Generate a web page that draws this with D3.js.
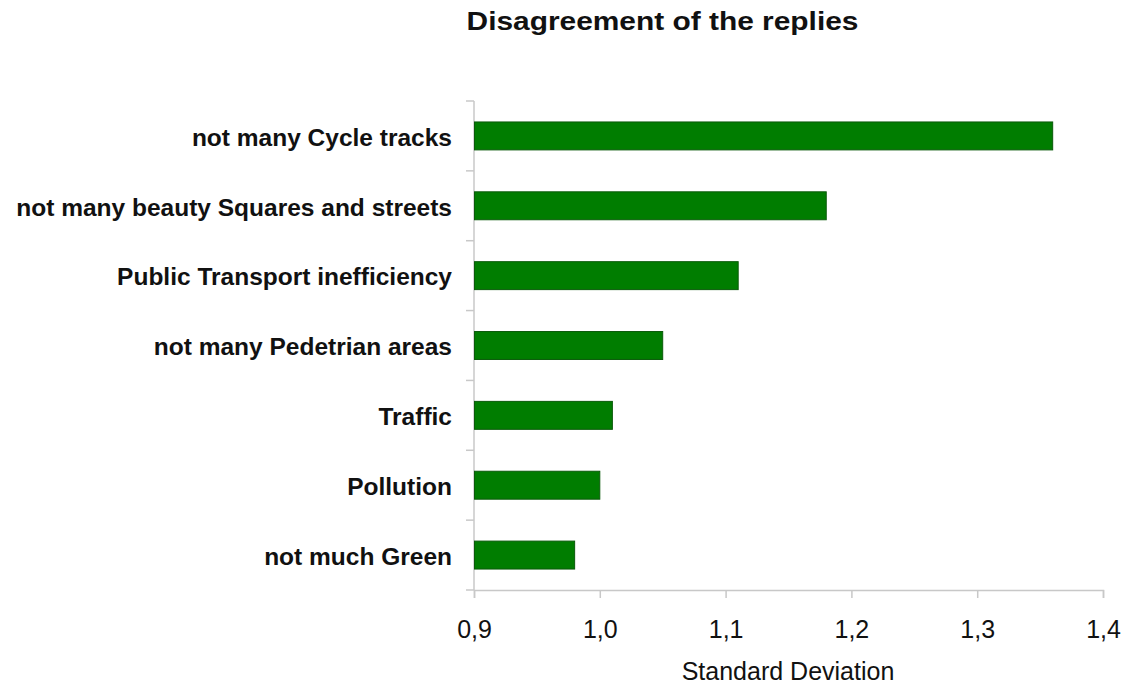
<!DOCTYPE html>
<html><head><meta charset="utf-8">
<script src="https://cdn.jsdelivr.net/npm/d3@7"></script>
<style>body{margin:0;background:#fff;} text{font-family:"Liberation Sans",Arial,sans-serif;}</style>
</head><body><svg id="c" width="1130" height="684"></svg>
<script>
const categories = ["not many Cycle tracks","not many beauty Squares and streets","Public Transport inefficiency","not many Pedetrian areas","Traffic","Pollution","not much Green"];
const values = [1.36,1.18,1.11,1.05,1.01,1.00,0.98];
const xTicks = [0.9,1.0,1.1,1.2,1.3,1.4];
const xTickLabels = ["0,9","1,0","1,1","1,2","1,3","1,4"];

const svg = d3.select("#c");
const mLeft = 474, mRight = 1103, mTop = 101, mBottom = 590;
const x = d3.scaleLinear().domain([0.9,1.4]).range([mLeft,mRight]);
const y = d3.scaleBand().domain(categories).range([mTop,mBottom]).paddingInner(0.6).paddingOuter(0.3);
const band = d3.scaleBand().domain(categories).range([mTop,mBottom]);
const axisColor = "#c8c8c8";

// y axis line and ticks at band edges
svg.append("line").attr("x1",mLeft).attr("x2",mLeft).attr("y1",mTop).attr("y2",mBottom).attr("stroke",axisColor).attr("stroke-width",1.5);
const edges = categories.map(c=>band(c)).concat([mBottom]);
svg.selectAll(".yt").data(edges).join("line").attr("x1",mLeft-8).attr("x2",mLeft).attr("y1",d=>d).attr("y2",d=>d).attr("stroke",axisColor).attr("stroke-width",1.5);

// x axis
const xAxis = svg.append("g").attr("transform",`translate(0,${mBottom})`)
  .call(d3.axisBottom(x).tickValues(xTicks).tickSize(8).tickFormat((d,i)=>xTickLabels[i]));
xAxis.select(".domain").attr("stroke",axisColor).attr("stroke-width",1.5);
xAxis.selectAll(".tick line").attr("stroke",axisColor).attr("stroke-width",1.5);
xAxis.selectAll(".tick text").attr("fill","#111").attr("font-size",25).attr("y",48).attr("dy",0)
  .attr("font-family","'Liberation Sans',Arial,sans-serif");

// bars
svg.selectAll(".bar").data(categories).join("rect")
  .attr("x",mLeft+0.5).attr("y",d=>y(d)).attr("width",(d,i)=>x(values[i])-mLeft-0.5).attr("height",y.bandwidth())
  .attr("fill","#007d00").attr("stroke","#0a5a0a").attr("stroke-width",1);

// category labels
svg.selectAll(".cl").data(categories).join("text")
  .attr("x",452).attr("y",d=>band(d)+band.bandwidth()/2).attr("dy","0.4em")
  .attr("text-anchor","end").attr("font-weight","bold").attr("font-size",24.5).attr("fill","#111").text(d=>d);

// title
svg.append("text").attr("transform","translate(662.5,30) scale(1.15,1)").attr("text-anchor","middle")
  .attr("font-weight","bold").attr("font-size",26).attr("fill","#111").text("Disagreement of the replies");
// x label
svg.append("text").attr("x",788).attr("y",680).attr("text-anchor","middle").attr("font-size",25).attr("fill","#111").text("Standard Deviation");
</script></body></html>
